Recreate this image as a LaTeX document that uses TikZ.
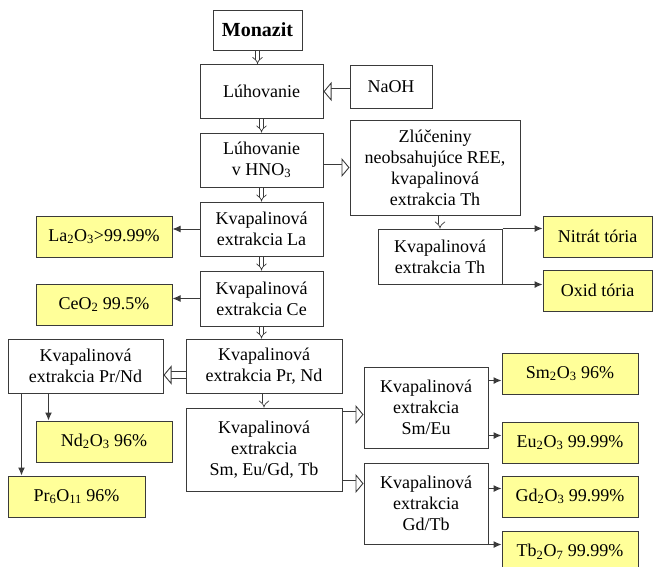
\documentclass[tikz,border=0pt]{standalone}
\usepackage{fontspec}
\setmainfont{Liberation Serif}
\usepackage{tikz}
\usetikzlibrary{arrows.meta,calc}
\definecolor{prodyellow}{HTML}{FFFF99}
\definecolor{linegray}{HTML}{3A3A3A}

\begin{document}
\begin{tikzpicture}[x=1pt, y=-1pt, font=\fontsize{18}{21}\selectfont,
    box/.style={draw=linegray, fill=white, align=center, inner sep=0pt, line width=1pt},
    ext/.style={box, minimum width=123pt, minimum height=54pt},
    prod/.style={box, fill=prodyellow, minimum width=136pt, minimum height=41pt},
    flow/.style={draw=linegray, double, double distance=3pt, line width=0.7pt, -{Implies}},
    bigflow/.style={draw=linegray, double, double distance=6pt, line width=0.9pt,
      -{Triangle[open, length=8pt, width=19pt, fill=white, line width=0.9pt]}},
    yield/.style={draw=linegray, line width=1pt, -{Latex[length=8pt,width=7pt]}}]
\clip (0,0) rectangle (669,566);

% main column
\node[box, minimum width=89pt, minimum height=40pt, font=\fontsize{20}{24}\selectfont] (monazit) at (257.5,30) {\textbf{Monazit}};
\node[ext] (luh) at (261.5,91.5) {Lúhovanie};
\node[box, minimum width=82pt, minimum height=43pt] (naoh) at (391,86.5) {NaOH};
\node[ext] (hno) at (261.5,160) {Lúhovanie\\ v HNO\textsubscript{3}};
\node[box, minimum width=170pt, minimum height=95pt] (zluc) at (435,167.5) {Zlúčeniny\\ neobsahujúce REE,\\ kvapalinová\\ extrakcia Th};
\node[ext] (exLa) at (261.5,229) {Kvapalinová\\ extrakcia La};
\node[ext, minimum height=55pt] (exCe) at (261.5,298.5) {Kvapalinová\\ extrakcia Ce};
\node[ext, minimum width=124pt, minimum height=55pt] (exTh) at (440,256.5) {Kvapalinová\\ extrakcia Th};
\node[ext, minimum width=156pt] (exPrNd) at (264,366) {Kvapalinová\\ extrakcia Pr, Nd};
\node[ext, minimum width=155pt] (exPrNd2) at (85.5,366) {Kvapalinová\\ extrakcia Pr/Nd};
\node[ext, minimum width=156pt, minimum height=83pt] (exSmTb) at (264,449.5) {Kvapalinová\\ extrakcia\\ Sm, Eu/Gd, Tb};
\node[ext, minimum width=124pt, minimum height=81pt] (exSmEu) at (426,407.5) {Kvapalinová\\ extrakcia\\ Sm/Eu};
\node[ext, minimum width=124pt, minimum height=81pt] (exGdTb) at (426,503.5) {Kvapalinová\\ extrakcia\\ Gd/Tb};

% products
\node[prod] (la) at (104,236.5) {La\textsubscript{2}O\textsubscript{3}>99.99\%};
\node[prod] (ce) at (104,304.5) {CeO\textsubscript{2} 99.5\%};
\node[prod, minimum width=109pt] (nitrat) at (597.5,236.5) {Nitrát tória};
\node[prod, minimum width=109pt] (oxid) at (597.5,290.5) {Oxid tória};
\node[prod] (nd) at (104,441.5) {Nd\textsubscript{2}O\textsubscript{3} 96\%};
\node[prod, minimum width=137pt] (pr) at (76.5,496.5) {Pr\textsubscript{6}O\textsubscript{11} 96\%};
\node[prod] (sm) at (570,373.5) {Sm\textsubscript{2}O\textsubscript{3} 96\%};
\node[prod] (eu) at (570,442.5) {Eu\textsubscript{2}O\textsubscript{3} 99.99\%};
\node[prod] (gd) at (570,496.5) {Gd\textsubscript{2}O\textsubscript{3} 99.99\%};
\node[prod] (tb) at (570,551.5) {Tb\textsubscript{2}O\textsubscript{7} 99.99\%};

% flow arrows
\draw[flow] (monazit.south) -- (monazit.south |- luh.north);
\draw[bigflow] (naoh.west |- luh.east) -- (luh.east);
\draw[flow] (luh) -- (hno);
\draw[bigflow] (hno.east |- zluc.west) -- (zluc.west);
\draw[flow] (hno) -- (exLa);
\draw[flow] (exTh.north |- zluc.south) -- (exTh.north);
\draw[flow] (exLa) -- (exCe);
\draw[flow] (exCe.south) -- (exCe.south |- exPrNd.north);
\draw[bigflow] ([yshift=-9pt]exPrNd.west) -- ([yshift=-9pt]exPrNd2.east);
\draw[flow] (exPrNd) -- (exSmTb);
\coordinate (smeu) at ([yshift=-7pt]exSmTb.north east);
\coordinate (gdtb) at ([yshift=8pt]exSmTb.south east);
\draw[bigflow] (smeu) -- (smeu -| exSmEu.west);
\draw[bigflow] (gdtb) -- (gdtb -| exGdTb.west);

% product arrows
\draw[yield] (exLa.west) -- (exLa.west -| la.east);
\draw[yield] (exCe.west) -- (exCe.west -| ce.east);
\draw[yield] (exTh.north east) -- (exTh.north east -| nitrat.west);
\draw[yield] (exTh.south east) -- (exTh.south east -| oxid.west);
\coordinate (tond) at ([xshift=41pt]exPrNd2.south west);
\coordinate (topr) at ([xshift=14pt]exPrNd2.south west);
\draw[yield] (tond) -- (tond |- nd.north);
\draw[yield] (topr) -- (topr |- pr.north);
\coordinate (tosm) at ([yshift=-14pt]exSmEu.north east);
\coordinate (toeu) at ([yshift=13pt]exSmEu.south east);
\coordinate (togd) at ([yshift=-26pt]exGdTb.north east);
\draw[yield] (tosm) -- (tosm -| sm.west);
\draw[yield] (toeu) -- (toeu -| eu.west);
\draw[yield] (togd) -- (togd -| gd.west);
\draw[yield] (exGdTb.south east) -- (exGdTb.south east -| tb.west);
\end{tikzpicture}
\end{document}
